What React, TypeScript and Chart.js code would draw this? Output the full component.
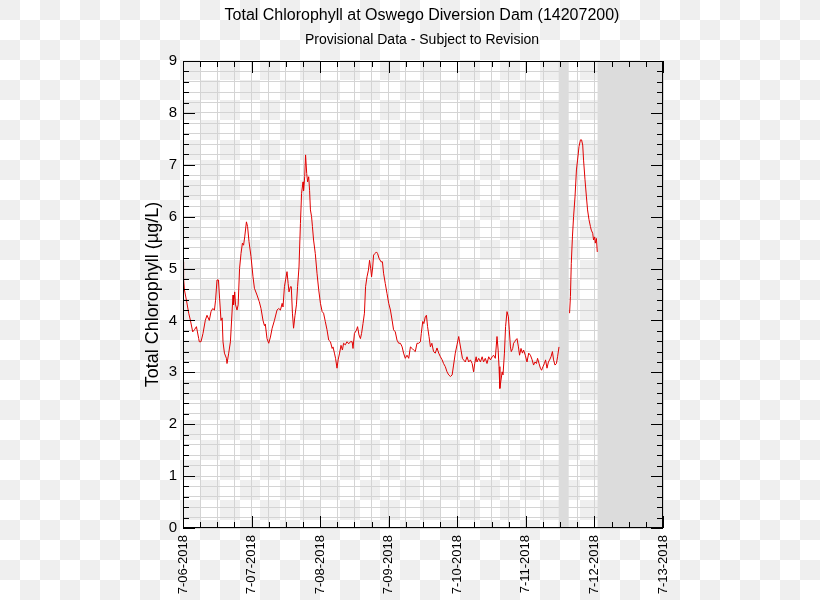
import React, { useEffect, useRef } from 'react';
import { Chart, registerables } from 'chart.js';

Chart.register(...registerables);

const TITLE = 'Total Chlorophyll at Oswego Diversion Dam (14207200)';
const SUBTITLE = 'Provisional Data - Subject to Revision';
const Y_TITLE = 'Total Chlorophyll (µg/L)';
const FONT = '"Liberation Sans", Arial, Helvetica, sans-serif';

const dayLabels = ['7-06-2018', '7-07-2018', '7-08-2018', '7-09-2018', '7-10-2018', '7-11-2018', '7-12-2018', '7-13-2018'];

// hours since 7-06-2018 00:00
const hours = [
  0.0, 0.2, 0.5, 1.2, 2.0, 2.6, 3.4, 4.0, 4.7, 5.5, 5.7, 6.3, 7.0, 7.8, 8.4, 9.2, 9.8, 10.4, 11.0, 11.4,
  11.9, 12.4, 12.8, 13.3, 13.7, 14.0, 14.5, 15.2, 15.4, 16.0, 16.6, 17.2, 17.5, 17.7, 18.1, 18.4, 18.9, 19.3, 19.8, 20.3,
  20.8, 21.2, 21.6, 22.2, 22.6, 23.1, 23.8, 24.5, 25.0, 25.9, 26.7, 27.3, 28.0, 28.5, 28.8, 29.4, 30.0, 30.6, 31.2, 32.0,
  32.9, 33.5, 34.1, 34.7, 35.0, 35.5, 35.9, 36.4, 36.8, 37.1, 37.6, 37.9, 38.3, 38.7, 39.2, 39.7, 40.1, 40.6, 41.1, 41.5,
  42.0, 42.2, 42.6, 42.9, 43.3, 43.6, 44.0, 44.3, 44.6, 45.0, 45.3, 45.7, 46.3, 46.9, 47.5, 48.1, 48.7, 49.2, 49.8, 50.4,
  51.0, 51.6, 52.2, 52.5, 53.0, 53.4, 53.9, 54.3, 54.8, 55.3, 55.8, 56.2, 56.8, 57.4, 58.0, 58.6, 59.2, 59.5, 60.0, 60.7,
  61.1, 61.6, 62.1, 62.5, 63.0, 63.5, 63.9, 64.4, 64.9, 65.3, 65.7, 66.0, 66.4, 66.7, 67.2, 67.7, 68.1, 68.6, 69.3, 69.8,
  70.2, 70.8, 71.4, 72.0, 72.6, 73.2, 73.7, 74.3, 74.9, 75.5, 76.1, 76.7, 77.2, 77.8, 78.4, 79.0, 79.6, 80.2, 80.7, 81.3,
  81.9, 82.5, 83.1, 83.4, 83.9, 84.3, 84.8, 85.2, 85.6, 86.1, 86.6, 87.1, 87.7, 88.3, 88.9, 89.5, 90.1, 90.7, 91.2, 91.8,
  92.4, 93.0, 93.6, 94.2, 94.7, 95.3, 95.9, 96.5, 96.8, 97.3, 97.8, 98.2, 98.8, 99.4, 100.0, 100.6, 101.2, 101.7, 102.1, 102.6,
  102.9, 103.5, 104.1, 104.7, 105.2, 105.8, 106.4, 107.0, 107.6, 108.2, 108.7, 109.3, 109.9, 110.3, 110.6, 110.9, 111.3, 111.7, 112.0, 112.5,
  112.9, 113.4, 113.9, 114.2, 114.6, 114.9, 115.4, 115.7, 116.1, 116.4, 116.9, 117.4, 117.8, 118.3, 118.8, 119.2, 119.8, 120.4, 121.0, 121.6,
  122.2, 122.7, 123.2, 123.7, 124.1, 124.6, 125.1, 125.5, 126.0, 126.5, 126.9, 127.4, 127.9, 128.3, 128.8, 129.3, 129.7, 130.2, 130.7, 131.1,
  131.6, 133.0, 135.3, 135.6, 135.9, 136.3, 136.7, 137.2, 137.7, 138.1, 138.6, 139.1, 139.5, 139.9, 140.2, 140.7, 141.2, 141.6, 142.1, 142.6,
  142.9, 143.4, 143.7, 144.1, 144.3, 144.7, 145.0,
];

// Total chlorophyll, µg/L (null = no data)
const chlorophyll = [
  5.13, 4.81, 4.59, 4.39, 4.14, 4.0, 3.78, 3.82, 3.88, 3.65, 3.59, 3.59, 3.75, 4.0, 4.1, 4.0, 4.17, 4.23, 4.2, 4.39,
  4.78, 4.78, 4.43, 4.0, 4.05, 3.59, 3.37, 3.27, 3.17, 3.37, 3.59, 4.2, 4.49, 4.3, 4.55, 4.3, 4.2, 4.3, 5.0, 5.29,
  5.49, 5.45, 5.61, 5.9, 5.81, 5.52, 5.23, 4.84, 4.62, 4.49, 4.36, 4.23, 4.0, 3.9, 3.93, 3.65, 3.56, 3.68, 3.85, 4.0,
  4.2, 4.23, 4.2, 4.33, 4.26, 4.65, 4.78, 4.94, 4.71, 4.55, 4.65, 4.65, 4.14, 3.85, 4.1, 4.3, 4.65, 5.03, 5.87, 6.45,
  6.67, 6.5, 6.77, 7.19, 6.83, 6.67, 6.77, 6.51, 6.13, 6.0, 5.81, 5.55, 5.29, 4.91, 4.59, 4.33, 4.17, 4.14, 3.98, 3.82,
  3.62, 3.59, 3.46, 3.49, 3.37, 3.27, 3.08, 3.24, 3.37, 3.52, 3.43, 3.56, 3.53, 3.59, 3.55, 3.59, 3.59, 3.46, 3.75, 3.81,
  3.88, 3.72, 3.65, 3.75, 3.94, 4.14, 4.65, 4.84, 4.97, 5.16, 5.0, 4.84, 5.03, 5.26, 5.29, 5.32, 5.29, 5.2, 5.13, 5.13,
  4.91, 4.71, 4.52, 4.33, 4.2, 4.0, 3.82, 3.78, 3.62, 3.56, 3.56, 3.49, 3.37, 3.27, 3.33, 3.27, 3.49, 3.46, 3.43, 3.4,
  3.56, 3.56, 3.59, 3.75, 3.98, 3.94, 4.07, 4.1, 3.88, 3.69, 3.49, 3.56, 3.4, 3.37, 3.47, 3.37, 3.3, 3.24, 3.17, 3.11,
  3.01, 2.95, 2.92, 2.95, 3.14, 3.37, 3.53, 3.69, 3.59, 3.43, 3.27, 3.24, 3.2, 3.3, 3.2, 3.24, 3.17, 3.01, 3.17, 3.3,
  3.2, 3.27, 3.2, 3.3, 3.2, 3.27, 3.17, 3.3, 3.24, 3.3, 3.33, 3.27, 3.69, 3.43, 3.11, 2.69, 2.85, 3.01, 2.95, 3.37,
  3.88, 4.17, 4.07, 3.82, 3.49, 3.4, 3.46, 3.56, 3.59, 3.62, 3.65, 3.49, 3.33, 3.46, 3.37, 3.43, 3.33, 3.2, 3.37, 3.33,
  3.24, 3.14, 3.2, 3.17, 3.27, 3.17, 3.08, 3.04, 3.11, 3.17, 3.24, 3.08, 3.2, 3.24, 3.3, 3.4, 3.24, 3.14, 3.17, 3.3,
  3.49, null, 4.14, 4.46, 5.1, 5.61, 6.0, 6.38, 6.9, 7.09, 7.35, 7.48, 7.48, 7.38, 7.09, 6.71, 6.38, 6.13, 5.94, 5.81,
  5.74, 5.68, 5.55, 5.61, 5.49, 5.58, 5.32,
];

// periods without data, in hours since 7-06-2018 00:00
const bandStart = [131.5, 145.1];
const bandEnd = [135.0, 168];

const isInt = (v: number) => Math.abs(v - Math.round(v)) < 1e-6;

const bandsPlugin = {
  id: 'noDataBands',
  beforeDatasetsDraw(chart: any) {
    const { ctx, chartArea, scales } = chart;
    const xs = scales.x;
    ctx.save();
    ctx.fillStyle = '#dcdcdc';
    bandStart.forEach((s, i) => {
      const x1 = xs.getPixelForValue(s);
      const x2 = xs.getPixelForValue(bandEnd[i]);
      ctx.fillRect(x1, chartArea.top, x2 - x1, chartArea.bottom - chartArea.top);
    });
    ctx.restore();
  },
};

const frameTicksPlugin = {
  id: 'frameTicks',
  afterDraw(chart: any) {
    const { ctx, chartArea, scales } = chart;
    const { left, right, top, bottom } = chartArea;
    const xs = scales.x;
    const ys = scales.y;
    ctx.save();
    ctx.strokeStyle = '#000';
    ctx.lineWidth = 1;
    ctx.beginPath();
    xs.ticks.forEach((t: any) => {
      const px = Math.round(xs.getPixelForValue(t.value)) + 0.5;
      const len = t.value % 24 === 0 ? 12 : 6;
      ctx.moveTo(px, bottom);
      ctx.lineTo(px, bottom - len);
      ctx.moveTo(px, top);
      ctx.lineTo(px, top + len);
    });
    ys.ticks.forEach((t: any) => {
      const py = Math.round(ys.getPixelForValue(t.value)) + 0.5;
      const len = isInt(t.value) ? 12 : 6;
      ctx.moveTo(left, py);
      ctx.lineTo(left + len, py);
      ctx.moveTo(right, py);
      ctx.lineTo(right - len, py);
    });
    ctx.stroke();
    ctx.strokeRect(Math.round(left) + 0.5, Math.round(top) + 0.5, Math.round(right - left) - 1, Math.round(bottom - top) - 1);
    ctx.restore();
  },
};

export default function App() {
  const canvasRef = useRef<HTMLCanvasElement | null>(null);

  useEffect(() => {
    const canvas = canvasRef.current;
    if (!canvas) return;
    const chart = new Chart(canvas, {
      type: 'line',
      data: {
        datasets: [
          {
            data: hours.map((h, i) => ({ x: h, y: chlorophyll[i] })) as any,
            borderColor: '#e00000',
            borderWidth: 1,
            pointRadius: 0,
            tension: 0,
            spanGaps: false,
            fill: false,
            xAxisID: 'x',
            yAxisID: 'y',
          },
        ],
      },
      options: {
        animation: false,
        responsive: false,
        devicePixelRatio: 1,
        layout: { padding: { left: 24, right: 0, top: 0, bottom: 0 } },
        plugins: {
          legend: { display: false },
          tooltip: { enabled: false },
          title: {
            display: true,
            text: TITLE,
            color: '#000',
            font: { family: FONT, size: 16, weight: 'normal' },
            padding: { top: 6.4, bottom: 0 },
          },
          subtitle: {
            display: true,
            text: SUBTITLE,
            color: '#000',
            font: { family: FONT, size: 14, weight: 'normal' },
            padding: { top: 6.5, bottom: 12.1 },
          },
        },
        scales: {
          x: {
            type: 'linear',
            min: 0,
            max: 168,
            afterFit: (s: any) => {
              s.height = 72;
            },
            grid: { color: '#d4d4d4', drawTicks: false },
            border: { display: false },
            ticks: {
              stepSize: 6,
              autoSkip: false,
              minRotation: 90,
              maxRotation: 90,
              padding: 7,
              color: '#000',
              font: { family: FONT, size: 13 },
              callback: (v: any) => (Math.round(v) % 24 === 0 ? dayLabels[Math.round(v) / 24] : ''),
            },
          },
          y: {
            type: 'linear',
            min: 0,
            max: 9,
            afterFit: (s: any) => {
              s.width = 159;
            },
            grid: { color: '#d4d4d4', drawTicks: false },
            border: { display: false },
            ticks: {
              stepSize: 0.2,
              autoSkip: false,
              padding: 6,
              color: '#000',
              font: { family: FONT, size: 15 },
              callback: (v: any) => (isInt(v) ? String(Math.round(v)) : ''),
            },
            title: {
              display: true,
              text: Y_TITLE,
              color: '#000',
              font: { family: FONT, size: 18 },
              padding: { top: 118, bottom: 0 },
            },
          },
          yRight: {
            type: 'linear',
            position: 'right',
            display: true,
            grid: { display: false },
            border: { display: false },
            ticks: { display: false },
            afterFit: (s: any) => {
              s.width = 157;
            },
          },
        },
      } as any,
      plugins: [bandsPlugin, frameTicksPlugin],
    });
    return () => chart.destroy();
  }, []);

  return (
    <div
      style={{
        position: 'fixed',
        left: 0,
        top: 0,
        width: 820,
        height: 600,
        background: 'repeating-conic-gradient(#ffffff 0% 25%, #efefef 0% 50%) 0 0 / 40px 40px',
      }}
    >
      <canvas ref={canvasRef} width={820} height={600} style={{ display: 'block', width: 820, height: 600 }} />
    </div>
  );
}
